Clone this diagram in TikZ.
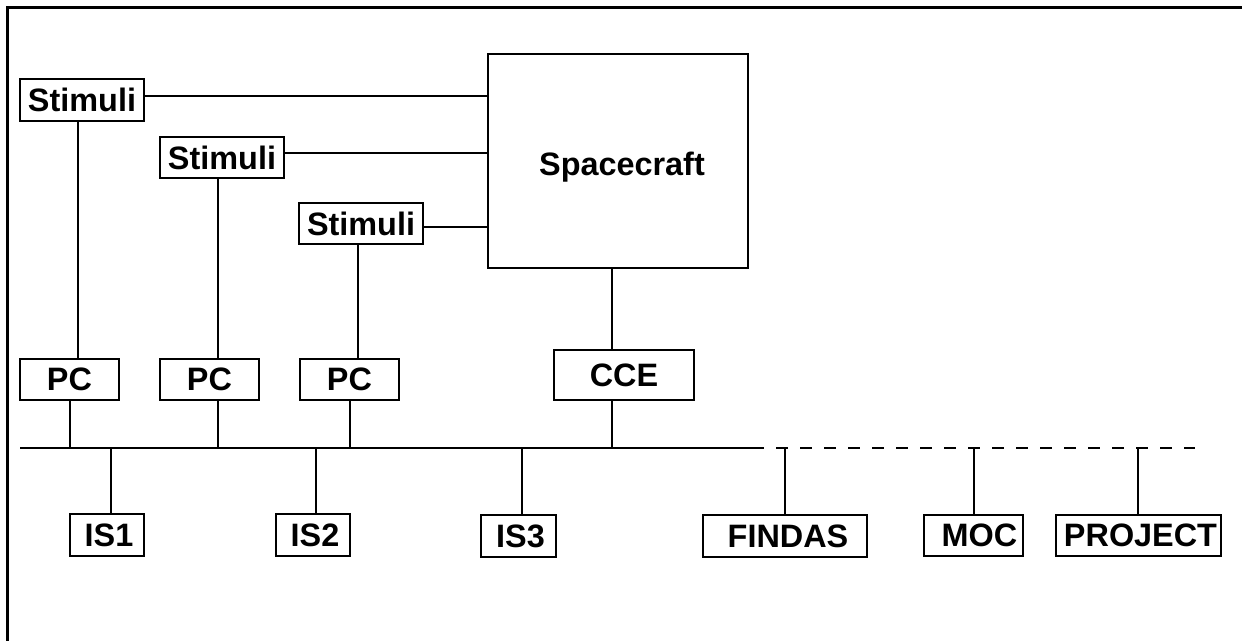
\documentclass[tikz,border=0pt]{standalone}
\usepackage{fontspec}
\setmainfont{Liberation Sans}
\begin{document}
\begin{tikzpicture}[x=0.5pt,y=-0.5pt,
  box/.style={draw,line width=1pt,inner sep=0pt,font=\fontsize{16.2}{19}\selectfont\bfseries},
  wire/.style={line width=1pt},
  frameline/.style={line width=1.5pt}]
\useasboundingbox (0,0) rectangle (1242,641);

% outer frame (top and left edges)
\coordinate (fTR) at (1242,7.5);
\coordinate (fTL) at (7.5,7.5);
\coordinate (fBL) at (7.5,641);
\draw[frameline] (fTR) -- (fTL) -- (fBL);

% upper row: stimuli generators and spacecraft
\node[box,minimum width=62pt,minimum height=21pt] (s1) at (82,100) {Stimuli};
\node[box,minimum width=62pt,minimum height=20.5pt] (s2) at (222,157.5) {Stimuli};
\node[box,minimum width=62pt,minimum height=20.5pt] (s3) at (361,223.5) {Stimuli};
\node[box,minimum width=130pt,minimum height=107pt] (sc) at (618,161) {};
\node[font=\fontsize{16.2}{19}\selectfont\bfseries] (sclabel) at (622,167) {Spacecraft};

% workstations
\node[box,minimum width=49.5pt,minimum height=20.5pt] (pc1) at (69.5,379.5) {PC};
\node[box,minimum width=49.5pt,minimum height=20.5pt] (pc2) at (209.5,379.5) {PC};
\node[box,minimum width=49.5pt,minimum height=20.5pt] (pc3) at (349.5,379.5) {PC};
\node[box,minimum width=70pt,minimum height=25pt] (cce) at (624,375) {CCE};

% lower row
\node[box,minimum width=37pt,minimum height=21pt] (is1) at (107,535) {\hspace*{2pt}IS1};
\node[box,minimum width=37pt,minimum height=21pt] (is2) at (313,535) {\hspace*{2pt}IS2};
\node[box,minimum width=37.5pt,minimum height=21pt] (is3) at (518.5,536) {\hspace*{2pt}IS3};
\node[box,minimum width=82pt,minimum height=21pt] (findas) at (785,536) {\hspace*{3pt}FINDAS};
\node[box,minimum width=49.5pt,minimum height=20.5pt] (moc) at (973.5,535.5) {\hspace*{6pt}MOC};
\node[box,minimum width=82.5pt,minimum height=20.5pt] (project) at (1138.5,535.5) {\hspace*{2pt}PROJECT};

% network bus: solid local part, dashed external part
\coordinate (busL) at (20,448);
\coordinate (busM) at (764,448);
\coordinate (busR) at (1195,448);
\draw[wire] (busL) -- (busM);
\draw[wire,dash pattern=on 6pt off 6pt,dash phase=6pt] (busM) -- (busR);

% stimuli to spacecraft
\draw[wire] ([yshift=2pt]s1.east) -- ([yshift=2pt]s1.east -| sc.west);
\draw[wire] ([yshift=2.25pt]s2.east) -- ([yshift=2.25pt]s2.east -| sc.west);
\draw[wire] ([yshift=-1.75pt]s3.east) -- ([yshift=-1.75pt]s3.east -| sc.west);

% stimuli to workstations, spacecraft to CCE
\draw[wire] ([xshift=-2pt]s1.south) -- ([xshift=-2pt]s1.south |- pc1.north);
\draw[wire] ([xshift=-2pt]s2.south) -- ([xshift=-2pt]s2.south |- pc2.north);
\draw[wire] ([xshift=-1.5pt]s3.south) -- ([xshift=-1.5pt]s3.south |- pc3.north);
\draw[wire] ([xshift=-3pt]sc.south) -- ([xshift=-3pt]sc.south |- cce.north);

% workstations to bus
\draw[wire] ([xshift=0.25pt]pc1.south) -- ([xshift=0.25pt]pc1.south |- busL);
\draw[wire] ([xshift=4.25pt]pc2.south) -- ([xshift=4.25pt]pc2.south |- busL);
\draw[wire] ([xshift=0.25pt]pc3.south) -- ([xshift=0.25pt]pc3.south |- busL);
\draw[wire] ([xshift=-6pt]cce.south) -- ([xshift=-6pt]cce.south |- busL);

% bus to lower row
\draw[wire] ([xshift=2pt]is1.north) -- ([xshift=2pt]is1.north |- busL);
\draw[wire] ([xshift=1.5pt]is2.north) -- ([xshift=1.5pt]is2.north |- busL);
\draw[wire] ([xshift=1.75pt]is3.north) -- ([xshift=1.75pt]is3.north |- busL);
\draw[wire] (findas.north) -- (findas.north |- busL);
\draw[wire] ([xshift=0.25pt]moc.north) -- ([xshift=0.25pt]moc.north |- busL);
\draw[wire] ([xshift=-0.25pt]project.north) -- ([xshift=-0.25pt]project.north |- busL);
\end{tikzpicture}
\end{document}
